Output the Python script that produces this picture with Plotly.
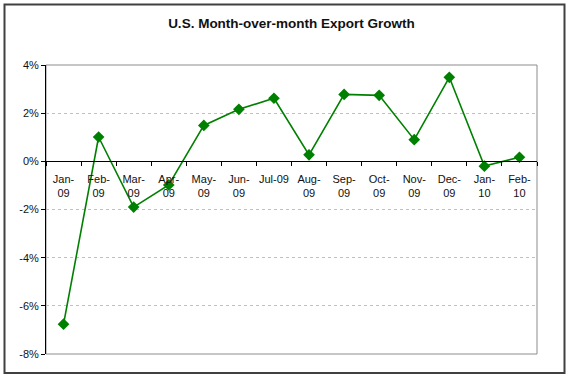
import plotly.graph_objects as go

categories = ["Jan-<br>09", "Feb-<br>09", "Mar-<br>09", "Apr-<br>09", "May-<br>09", "Jun-<br>09",
              "Jul-09", "Aug-<br>09", "Sep-<br>09", "Oct-<br>09", "Nov-<br>09", "Dec-<br>09",
              "Jan-<br>10", "Feb-<br>10"]
growth = [-6.76, 1.01, -1.90, -0.98, 1.49, 2.16, 2.62, 0.27, 2.78, 2.74, 0.90, 3.49, -0.20, 0.17]
y_ticks = [-8, -6, -4, -2, 0, 2, 4]
y_tick_labels = ["-8%", "-6%", "-4%", "-2%", "0%", "2%", "4%"]

L, R, T, B = 46, 33, 65, 24
W, H = 570, 378
pw, ph = W - L - R, H - T - B

fig = go.Figure()
fig.add_trace(go.Scatter(
    x=categories, y=growth, mode="lines+markers",
    line=dict(color="#008000", width=1.6),
    marker=dict(symbol="diamond", size=9, color="#008000"),
    showlegend=False, cliponaxis=False,
))

def px_x(x):
    return (x - L) / pw

def px_y(y):
    return (H - B - y) / ph

fig.update_layout(
    width=W, height=H,
    margin=dict(l=L, r=R, t=T, b=B, autoexpand=False),
    paper_bgcolor="white", plot_bgcolor="white",
    font=dict(family="Liberation Sans, Arial, sans-serif", size=11, color="#111"),
    title=dict(text="<b>U.S. Month-over-month Export Growth</b>", x=0.5, xanchor="center",
               xref="paper", y=1 - 23 / H, yanchor="middle",
               font=dict(size=13.5, color="#111")),
    xaxis=dict(
        type="category", anchor="free", position=8 / 12,
        showline=True, linecolor="black", linewidth=1,
        ticks="outside", tickson="boundaries", ticklen=4, tickcolor="black",
        showgrid=False, zeroline=False, tickangle=0, automargin=False,
        ticklabelstandoff=7,
        tickfont=dict(size=11, color="#111"),
        range=[-0.5, len(categories) - 0.5],
    ),
    yaxis=dict(
        range=[-8, 4], tickvals=y_ticks, ticktext=y_tick_labels,
        showline=True, linecolor="black", linewidth=1,
        ticks="outside", ticklen=4, tickcolor="black",
        showgrid=True, gridcolor="#c0c0c0", griddash="dot", gridwidth=1,
        zeroline=False, automargin=False,
        tickfont=dict(size=11, color="#111"),
    ),
    shapes=[
        dict(type="rect", xref="paper", yref="paper", x0=0, x1=1, y0=0, y1=1,
             line=dict(color="#8c8c8c", width=1), layer="below"),
        dict(type="rect", xref="paper", yref="paper",
             x0=px_x(4.5), x1=px_x(564.5), y0=px_y(373), y1=px_y(4.5),
             line=dict(color="#404040", width=2)),
    ],
)

fig.write_html("out.html", config={"displayModeBar": False},
               post_script="document.body.style.margin='0';document.body.style.padding='0';")
